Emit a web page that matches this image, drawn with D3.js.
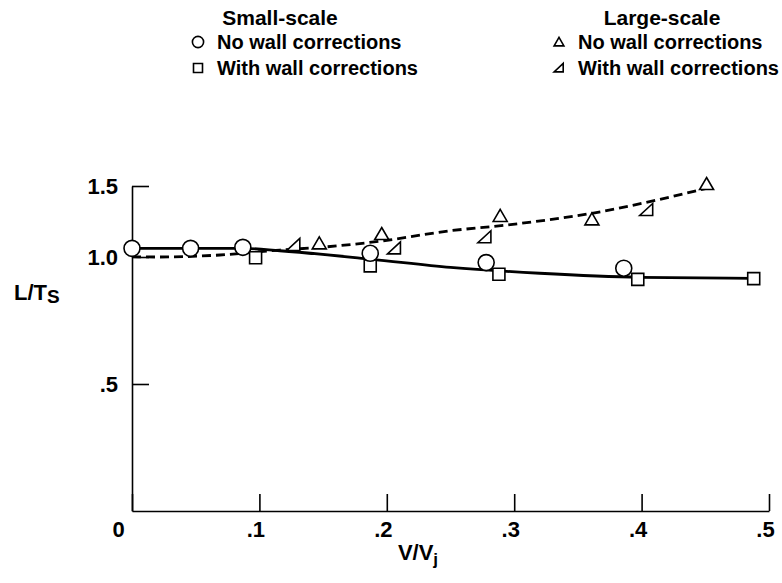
<!DOCTYPE html>
<html><head><meta charset="utf-8">
<script src="https://cdn.jsdelivr.net/npm/d3@7"></script>
<style>
html,body{margin:0;padding:0;background:#fff;}
svg text{font-family:"Liberation Sans",Arial,Helvetica,sans-serif;font-weight:bold;fill:#000;}
</style></head>
<body><svg id="c" width="782" height="583"></svg>
<script>
// ---- data ----
const xTicks = [0, 0.1, 0.2, 0.3, 0.4, 0.5];
const yTicks = [0.5, 1.0, 1.5];
// small-scale, no wall corrections (circles)
const smallNoV = [0.0, 0.046, 0.087, 0.187, 0.278, 0.386];
const smallNoL = [1.061, 1.061, 1.068, 1.026, 0.978, 0.956];
// small-scale, with wall corrections (squares)
const smallWithV = [0.097, 0.187, 0.288, 0.397, 0.488];
const smallWithL = [0.997, 0.965, 0.932, 0.912, 0.915];
// large-scale, no wall corrections (triangles)
const largeNoV = [0.147, 0.196, 0.289, 0.361, 0.451];
const largeNoL = [1.096, 1.162, 1.289, 1.265, 1.514];
// large-scale, with wall corrections (right triangles)
const largeWithV = [0.127, 0.206, 0.277, 0.404];
const largeWithL = [1.085, 1.061, 1.139, 1.331];
// faired curves
const smallCurveV = [0.0, 0.046, 0.087, 0.116, 0.187, 0.25, 0.32, 0.399, 0.487];
const smallCurveL = [1.061, 1.061, 1.061, 1.044, 0.992, 0.959, 0.936, 0.920, 0.916];
const largeCurveV = [0.0, 0.02, 0.069, 0.116, 0.148, 0.196, 0.25, 0.294, 0.361, 0.451];
const largeCurveL = [1.002, 1.0, 1.014, 1.049, 1.068, 1.113, 1.185, 1.225, 1.308, 1.484];
const legendTitles = ["Small-scale", "Large-scale"];
const legendLabels = ["No wall corrections", "With wall corrections"];

// ---- drawing ----
const svg = d3.select("#c");
const x = d3.scaleLinear().domain([0, 0.5]).range([132, 769]);
// the original axis is not uniform above 1.0
const y = d3.scaleLinear().domain([0, 1.0, 1.5]).range([511, 257, 186]);

const fmt = d => d === 0 ? "0" : (d >= 1 ? d.toFixed(1) : d.toFixed(1).replace(/^0/, ""));

const gx = svg.append("g").attr("transform", `translate(0,${y(0)})`)
  .call(d3.axisBottom(x).tickValues(xTicks).tickSize(-17).tickSizeOuter(0).tickPadding(10).tickFormat(fmt));
gx.selectAll("text").attr("font-size", 22).attr("dx", d => d === 0 ? -14 : -4);
gx.selectAll("line,path").attr("stroke", "#000").attr("stroke-width", 1.6);

const gy = svg.append("g").attr("transform", `translate(${x(0)},0)`)
  .call(d3.axisLeft(y).tickValues(yTicks).tickSize(-17).tickSizeOuter(0).tickPadding(14).tickFormat(fmt));
gy.selectAll("text").attr("font-size", 22);
gy.selectAll("line,path").attr("stroke", "#000").attr("stroke-width", 1.6);
svg.selectAll(".domain").attr("fill", "none");

// curves
const line = d3.line().x(d => x(d[0])).y(d => y(d[1])).curve(d3.curveMonotoneX);
svg.append("path").datum(d3.zip(smallCurveV, smallCurveL)).attr("d", line)
  .attr("fill", "none").attr("stroke", "#000").attr("stroke-width", 2.8);
svg.append("path").datum(d3.zip(largeCurveV, largeCurveL)).attr("d", line)
  .attr("fill", "none").attr("stroke", "#000").attr("stroke-width", 2.8).attr("stroke-dasharray", "9,5");

// marker shapes
const shapes = {
  circle: d3.symbol().type(d3.symbolCircle).size(Math.PI * 8 * 8)(),
  square: "M-6,-6H6V6H-6Z",
  tri: "M0,-6.5L7,5.5H-7Z",
  rtri: "M-7,5.5H6V-6.5Z"
};
function marks(V, L, shape) {
  svg.append("g").selectAll("path").data(d3.zip(V, L)).join("path")
    .attr("transform", d => `translate(${x(d[0])},${y(d[1])})`)
    .attr("d", shapes[shape]).attr("fill", "#fff").attr("stroke", "#000").attr("stroke-width", 1.6);
}
marks(smallWithV, smallWithL, "square");
marks(smallNoV, smallNoL, "circle");
marks(largeNoV, largeNoL, "tri");
marks(largeWithV, largeWithL, "rtri");

// axis titles
const xt = svg.append("text").attr("x", 418).attr("y", 560).attr("text-anchor", "middle").attr("font-size", 22);
xt.append("tspan").text("V/V");
xt.append("tspan").text("j").attr("font-size", 17).attr("dy", 5);
const yt = svg.append("text").attr("x", 14).attr("y", 300).attr("font-size", 22);
yt.append("tspan").text("L/T");
yt.append("tspan").text("S").attr("font-size", 19).attr("dy", 3);

// legend
const leg = svg.append("g");
const cols = [{tx: 280, mx: 198, shapes: ["circle", "square"]}, {tx: 662, mx: 559, shapes: ["tri", "rtri"]}];
cols.forEach((c, i) => {
  leg.append("text").attr("x", c.tx).attr("y", 25).attr("text-anchor", "middle").attr("font-size", 21).text(legendTitles[i]);
  legendLabels.forEach((lab, j) => {
    const yy = 42 + j * 26;
    const sc = (i === 0) ? (j === 0 ? 0.7 : 0.75) : 0.7;
    leg.append("path").attr("transform", `translate(${c.mx},${yy}) scale(${sc})`).attr("d", shapes[c.shapes[j]])
      .attr("fill", "#fff").attr("stroke", "#000").attr("stroke-width", 1.6 / sc);
    leg.append("text").attr("x", c.mx + 19).attr("y", yy + 7).attr("font-size", 20).text(lab);
  });
});
</script></body></html>
